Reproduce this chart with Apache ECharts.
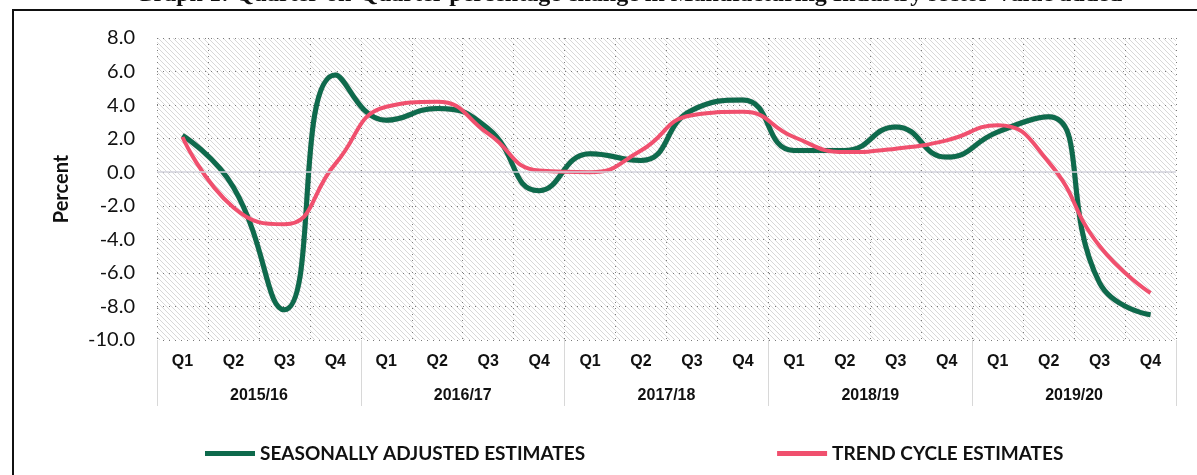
<!DOCTYPE html>
<html>
<head>
<meta charset="utf-8">
<script src="https://cdn.jsdelivr.net/npm/echarts@6/dist/echarts.min.js"></script>
<style>
html,body{margin:0;padding:0;background:#fff;}
#c{width:1197px;height:475px;}
</style>
</head>
<body>
<div id="c"></div>
<script>
const quarters = ["Q1","Q2","Q3","Q4","Q1","Q2","Q3","Q4","Q1","Q2","Q3","Q4","Q1","Q2","Q3","Q4","Q1","Q2","Q3","Q4"];
const years = ["2015/16","2016/17","2017/18","2018/19","2019/20"];
const seasonallyAdjusted = [2.2,-0.9,-8.2,5.8, 3.1,3.8,2.6,-1.1, 1.1,0.7,3.7,4.3, 1.3,1.3,2.7,0.9, 2.4,3.3,-6.6,-8.5];
const trendCycle = [2.1,-2.1,-3.1,0.5, 3.9,4.2,2.3,0.1, 0.0,1.3,3.4,3.6, 2.1,1.2,1.4,1.9, 2.8,0.6,-4.4,-7.2];
const yTicks = {min:-10, max:8, interval:2};
const seriesNames = ["SEASONALLY ADJUSTED ESTIMATES","TREND CYCLE ESTIMATES"];
const titleText = "Graph 1: Quarter-on-Quarter percentage change in Manufacturing Industry sector Value added";

// hatch pattern
const P = 5;
const pc = document.createElement('canvas');
pc.width = P; pc.height = P;
const g = pc.getContext('2d');
g.fillStyle = '#ffffff'; g.fillRect(0,0,P,P);
g.strokeStyle = '#d8d8d8'; g.lineWidth = 1;
g.beginPath();
g.moveTo(-1,-1); g.lineTo(P+1,P+1);
g.moveTo(-1,P-1); g.lineTo(1,P+1);
g.moveTo(P-1,-1); g.lineTo(P+1,1);
g.stroke();

const chart = echarts.init(document.getElementById('c'), null, {renderer:'canvas'});
const option = {
  animation:false,
  backgroundColor:'#fff',
  grid:{left:157,right:21,top:38,bottom:135,show:true,backgroundColor:{image:pc,repeat:'repeat'},borderWidth:0},
  graphic:[
    {type:'rect',shape:{x:13,y:10,width:1300,height:600},style:{fill:'none',stroke:'#111',lineWidth:2},silent:true},
    {type:'text',x:1122,y:-5,style:{text:titleText,font:'bold 24px "Liberation Serif"',fill:'#111',textAlign:'right',textVerticalAlign:'middle'},silent:true}
  ],
  legend:{
    left:200, top:439, itemWidth:50, itemHeight:5, itemGap:192, icon:'rect',
    textStyle:{fontFamily:'Lato',fontWeight:'bold',fontSize:19,color:'#111'},
    data:seriesNames
  },
  xAxis:[
    {type:'category',data:quarters,position:'bottom',boundaryGap:true,
     axisLine:{show:false,onZero:false},axisTick:{show:false},
     axisLabel:{interval:0,margin:14,fontFamily:'Liberation Sans',fontWeight:'bold',fontSize:16,color:'#111'},
     splitLine:{show:true,interval:0,lineStyle:{type:[1,5],color:'#7a7a7a',width:1}}},
    {type:'category',data:years,position:'bottom',boundaryGap:true,
     axisLine:{show:false,onZero:false},
     axisTick:{show:true,length:66,lineStyle:{color:'#d8d8d8',width:1}},
     axisLabel:{interval:0,margin:48,fontFamily:'Liberation Sans',fontWeight:'bold',fontSize:16,color:'#111'},
     splitLine:{show:false}}
  ],
  yAxis:{
    type:'value',min:yTicks.min,max:yTicks.max,interval:yTicks.interval,
    name:'Percent',nameLocation:'middle',nameGap:85,
    nameTextStyle:{fontFamily:'Lato',fontWeight:'bold',fontSize:20,color:'#111'},
    axisLine:{show:false},axisTick:{show:false},
    axisLabel:{margin:22,formatter:v=>v.toFixed(1),fontFamily:'Lato',fontSize:20,color:'#111'},
    splitLine:{show:true,lineStyle:{type:[1,5],color:'#7a7a7a',width:1}}
  },
  series:[
    {name:seriesNames[0],type:'line',data:seasonallyAdjusted,smooth:0.5,symbol:'none',z:3,
     lineStyle:{color:'#0e6a4c',width:5,shadowColor:'rgba(0,0,0,0.35)',shadowBlur:1},
     itemStyle:{color:'#0e6a4c'},
     markLine:{silent:true,symbol:'none',label:{show:false},data:[{yAxis:0}],lineStyle:{color:'#d3d3dc',type:'solid',width:1.5}}},
    {name:seriesNames[1],type:'line',data:trendCycle,smooth:0.5,symbol:'none',z:4,
     lineStyle:{color:'#f0506e',width:4},itemStyle:{color:'#f0506e'}}
  ]
};
chart.setOption(option);
</script>
</body>
</html>
